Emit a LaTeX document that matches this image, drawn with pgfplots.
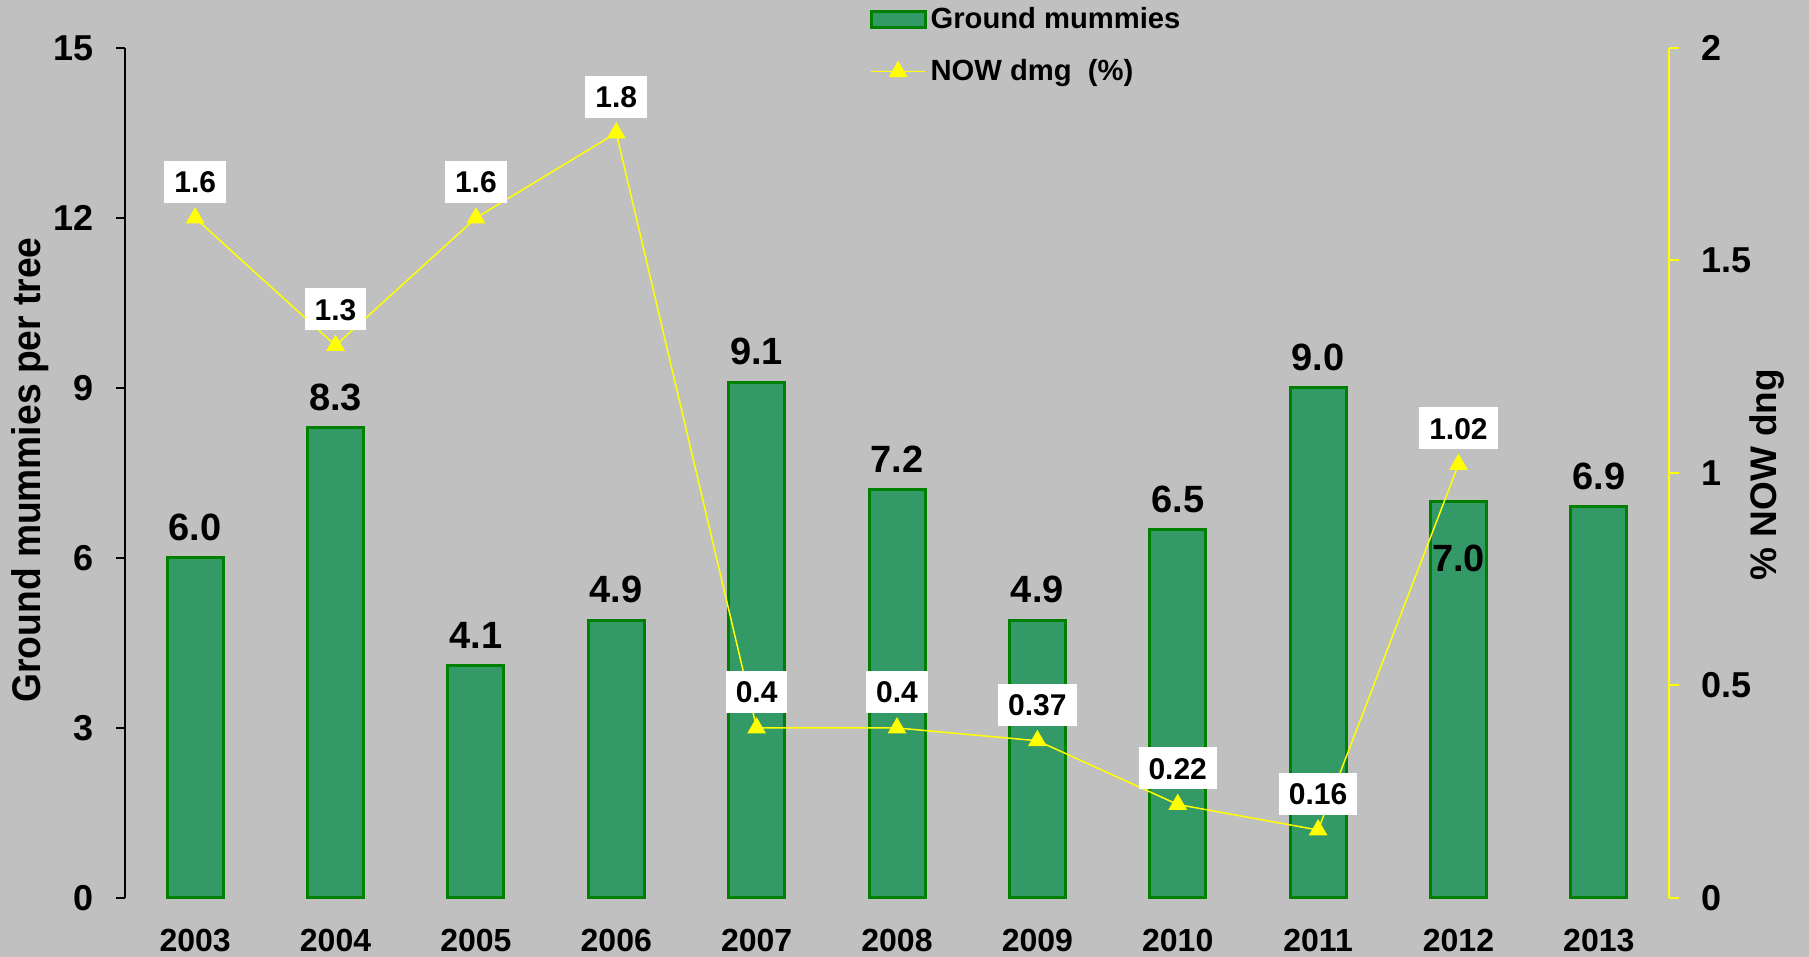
\documentclass[border=0pt]{standalone}
\usepackage{fontspec}
\setmainfont{Liberation Sans}
\newfontfamily\narrowfont[FakeStretch=0.93]{Liberation Sans}
\usepackage{pgfplots}
\pgfplotsset{compat=1.18}
\usepackage{pgfplotstable}
\definecolor{bg}{HTML}{C0C0C0}
\definecolor{barfill}{HTML}{339966}
\definecolor{barline}{HTML}{008000}
\definecolor{lineyellow}{HTML}{FFFF00}

\pgfplotstableread{
x val lbl sh
0 6.0 6.0 8
1 8.3 8.3 8
2 4.1 4.1 8
3 4.9 4.9 8
4 9.1 9.1 8
5 7.2 7.2 8
6 4.9 4.9 8
7 6.5 6.5 8
8 9.0 9.0 8
9 7.0 7.0 -36
10 6.9 6.9 8
}\bars

\pgfplotstableread{
x val lbl
0 1.6 1.6
1 1.3 1.3
2 1.6 1.6
3 1.8 1.8
4 0.4 0.4
5 0.4 0.4
6 0.37 0.37
7 0.22 0.22
8 0.16 0.16
9 1.02 1.02
}\nowdmg

\pgfplotsset{
  barlegend/.style={legend image code/.code={\draw[##1] (0pt,-4pt) rectangle (27pt,4pt);}},
  linelegend/.style={legend image code/.code={\draw[##1, mark repeat=2, mark phase=2] plot coordinates {(0pt,0pt) (13.5pt,0pt) (27pt,0pt)};}},
}

\begin{document}
\begin{tikzpicture}
\fill[bg] (0,0) rectangle (904.5pt,478.5pt);
\path[use as bounding box] (0,0) rectangle (904.5pt,478.5pt);

\begin{axis}[
  at={(62.5pt,29.5pt)}, anchor=south west,
  scale only axis, width=772pt, height=425pt,
  xmin=-0.5, xmax=10.5, ymin=0, ymax=15,
  axis y line*=left, axis x line*=bottom,
  x axis line style={draw=none},
  y axis line style={black, line width=1.2pt, -},
  xtick={0,1,2,3,4,5,6,7,8,9,10},
  xticklabels={2003,2004,2005,2006,2007,2008,2009,2010,2011,2012,2013},
  ytick={0,3,6,9,12,15},
  tick align=outside,
  major tick length=4.5pt,
  xtick style={draw=none},
  ytick style={black, line width=1pt},
  /pgf/number format/assume math mode=true,
  xticklabel style={font=\fontsize{16}{16}\selectfont\bfseries, inner sep=0pt, anchor=north, yshift=-10.5pt, text height=11.5pt, text depth=0pt},
  yticklabel style={font=\fontsize{18}{18}\selectfont\bfseries, inner sep=0pt, anchor=east, xshift=-11pt},
  clip=false,
  ybar, bar width=28pt,
]
\addplot[ybar, fill=barfill, draw=barline, line width=1.5pt,
  point meta=explicit symbolic, nodes near coords,
  visualization depends on={\thisrow{sh} \as \sh},
  every node near coord/.append style={anchor=south, inner sep=0pt, yshift=\sh,
     font=\fontsize{19}{19}\selectfont\bfseries, text height=13.6pt, text depth=0pt, text=black}]
  table[x=x, y=val, meta=lbl]{\bars};
\node[rotate=90, font=\narrowfont\bfseries\fontsize{20}{20}\selectfont] at (rel axis cs:-0.0615,0.5035) {Ground mummies per tree};
\end{axis}

\begin{axis}[
  at={(62.5pt,29.5pt)}, anchor=south west,
  scale only axis, width=772pt, height=425pt,
  xmin=-0.5, xmax=10.5, ymin=0, ymax=2,
  axis y line*=right, axis x line=none,
  y axis line style={lineyellow, line width=1pt, -},
  ytick={0,0.5,1,1.5,2},
  tick align=outside,
  major tick length=5pt,
  ytick style={lineyellow, line width=1pt},
  /pgf/number format/assume math mode=true,
  yticklabel style={font=\fontsize{18}{18}\selectfont\bfseries, inner sep=0pt, anchor=west, xshift=11pt},
  clip=false,
  legend style={at={(rel axis cs:0.482,1.053)}, anchor=north west, draw=none, fill=none,
     inner sep=0pt, row sep=10pt, column sep=0pt,
     font=\fontsize{14.6}{14.6}\selectfont\bfseries},
  legend cell align=left,
]
\addlegendimage{fill=barfill, draw=barline, line width=1.5pt, barlegend}
\addlegendentry{Ground mummies}
\addplot[lineyellow, line width=0.75pt, mark=triangle*, mark size=4.7pt,
  mark options={fill=lineyellow, draw=lineyellow}, linelegend,
  point meta=explicit symbolic, nodes near coords,
  every node near coord/.append style={fill=white, text=black,
     font=\fontsize{15}{15}\selectfont\bfseries, inner xsep=5pt, inner ysep=0pt,
     minimum height=21pt, text height=10.7pt, text depth=0pt, anchor=center, yshift=18pt}]
  table[x=x, y=val, meta=lbl]{\nowdmg};
\addlegendentry{NOW dmg\ \ (\%)}
\node[rotate=90, font=\bfseries\fontsize{18.5}{18.5}\selectfont] at (rel axis cs:1.0635,0.498) {\% NOW dng};
\end{axis}
\end{tikzpicture}
\end{document}
